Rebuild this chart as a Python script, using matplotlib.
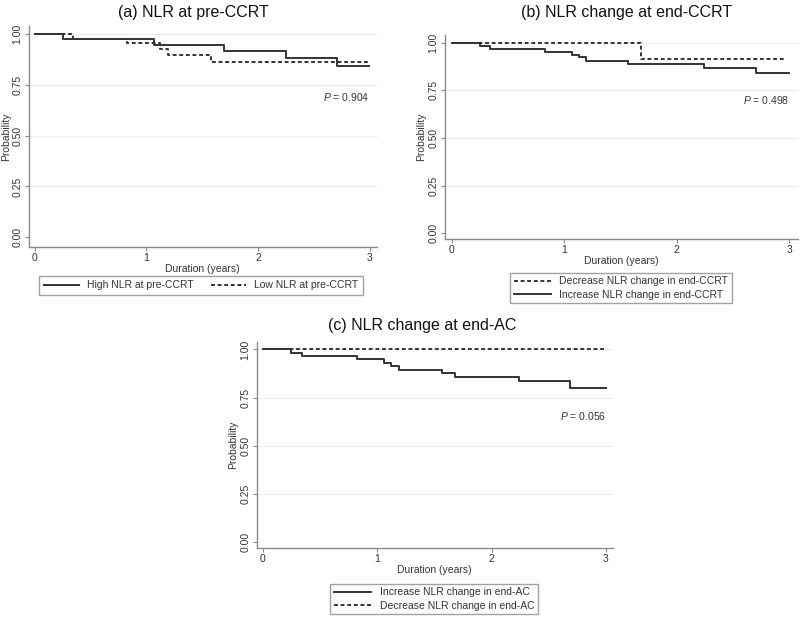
import matplotlib.pyplot as plt

plt.rcParams['font.family'] = ['Liberation Sans', 'DejaVu Sans']
plt.rcParams['mathtext.fontset'] = 'custom'
plt.rcParams['mathtext.it'] = 'Liberation Sans:italic'
plt.rcParams['mathtext.rm'] = 'Liberation Sans'

# (a) NLR at pre-CCRT
a_high_t = [0, 0.25, 1.07, 1.69, 2.25, 2.71, 2.99]
a_high_s = [1.0, 0.975, 0.947, 0.919, 0.882, 0.842, 0.842]
a_low_t = [0, 0.34, 0.83, 1.12, 1.19, 1.58, 3.0]
a_low_s = [1.0, 0.975, 0.955, 0.926, 0.895, 0.864, 0.864]

# (b) NLR change at end-CCRT
b_dec_t = [0, 1.68, 2.96]
b_dec_s = [1.0, 0.917, 0.917]
b_inc_t = [0, 0.25, 0.34, 0.83, 1.07, 1.13, 1.19, 1.57, 2.24, 2.70, 3.0]
b_inc_s = [1.0, 0.984, 0.968, 0.953, 0.938, 0.923, 0.907, 0.889, 0.867, 0.843, 0.843]

# (c) NLR change at end-AC
c_inc_t = [0, 0.25, 0.34, 0.82, 1.06, 1.12, 1.19, 1.57, 1.68, 2.24, 2.69, 3.0]
c_inc_s = [1.0, 0.983, 0.968, 0.949, 0.931, 0.913, 0.895, 0.877, 0.856, 0.834, 0.800, 0.800]
c_dec_t = [0, 2.98]
c_dec_s = [1.0, 1.0]

yticks = [0, 0.25, 0.5, 0.75, 1.0]
xticks = [0, 1, 2, 3]

LINE = '#333333'
AXC = '#8a8a8a'
TXT = '#333333'
DASH = (0, (2, 1.4))

fig = plt.figure(figsize=(8, 6.18), dpi=100)


def km_axes(rect, xlim, ylim, title, pval, py, title_pos):
    ax = fig.add_axes(rect)
    ax.set_xlim(*xlim)
    ax.set_ylim(*ylim)
    for s in ['top', 'right']:
        ax.spines[s].set_visible(False)
    for s in ['left', 'bottom']:
        ax.spines[s].set_color(AXC)
        ax.spines[s].set_linewidth(1.0)
    ax.set_xticks(xticks)
    ax.set_yticks(yticks)
    ax.set_yticklabels(['%.2f' % v for v in yticks], rotation=90, va='center')
    ax.tick_params(colors=AXC, labelcolor=TXT, labelsize=7.5, length=3, width=0.8, pad=1.5)
    for v in yticks[1:]:
        ax.axhline(v, color='#ececec', lw=0.8, zorder=0)
    ax.set_xlabel('Duration (years)', fontsize=7.5, color=TXT, labelpad=0.5)
    ax.set_ylabel('Probability', fontsize=7.5, color=TXT)
    ax.yaxis.set_label_coords(-0.052, 0.5)
    fig.text(title_pos[0], title_pos[1], title, ha='center', va='center', fontsize=11.5, color='#111111')
    ax.text(3.0, py, '$P$ = ' + pval, ha='right', va='center', fontsize=7.5, color=TXT)
    return ax


# panel a
ax1 = km_axes([0.036, 0.600, 0.435, 0.358], (-0.054, 3.063), (-0.049, 1.04),
              '(a) NLR at pre-CCRT', '0.904', 0.69, (193 / 800, 1 - 12 / 618))
l1, = ax1.step(a_high_t, a_high_s, where='post', color=LINE, lw=1.4)
l2, = ax1.step(a_low_t, a_low_s, where='post', color=LINE, lw=1.4, linestyle=DASH)
fig.legend([l1, l2], ['High NLR at pre-CCRT', 'Low NLR at pre-CCRT'], ncol=2,
           loc='center', bbox_to_anchor=(201 / 800, 1 - 285.5 / 618), fontsize=7.5,
           frameon=True, fancybox=False, edgecolor=AXC, handlelength=3.4,
           columnspacing=1.6, borderpad=0.45, labelcolor=TXT)

# panel b
ax2 = km_axes([0.556, 0.613, 0.442, 0.330], (-0.062, 3.08), (-0.032, 1.04),
              '(b) NLR change at end-CCRT', '0.498', 0.70, (627 / 800, 1 - 12 / 618))
l3, = ax2.step(b_dec_t, b_dec_s, where='post', color=LINE, lw=1.4, linestyle=DASH)
l4, = ax2.step(b_inc_t, b_inc_s, where='post', color=LINE, lw=1.4)
fig.legend([l3, l4], ['Decrease NLR change in end-CCRT', 'Increase NLR change in end-CCRT'],
           loc='center', bbox_to_anchor=(621 / 800, 1 - 288 / 618), fontsize=7.5,
           frameon=True, fancybox=False, edgecolor=AXC, handlelength=3.6,
           borderpad=0.35, labelspacing=0.3, labelcolor=TXT)

# panel c
ax3 = km_axes([0.321, 0.113, 0.445, 0.334], (-0.052, 3.06), (-0.031, 1.04),
              '(c) NLR change at end-AC', '0.056', 0.654, (422 / 800, 1 - 326 / 618))
l5, = ax3.step(c_inc_t, c_inc_s, where='post', color=LINE, lw=1.4)
l6, = ax3.step(c_dec_t, c_dec_s, where='post', color=LINE, lw=1.4, linestyle=DASH)
fig.legend([l5, l6], ['Increase NLR change in end-AC', 'Decrease NLR change in end-AC'],
           loc='center', bbox_to_anchor=(434 / 800, 1 - 599 / 618), fontsize=7.5,
           frameon=True, fancybox=False, edgecolor=AXC, handlelength=3.6,
           borderpad=0.35, labelspacing=0.3, labelcolor=TXT)

fig.savefig('out.png', dpi=100)
